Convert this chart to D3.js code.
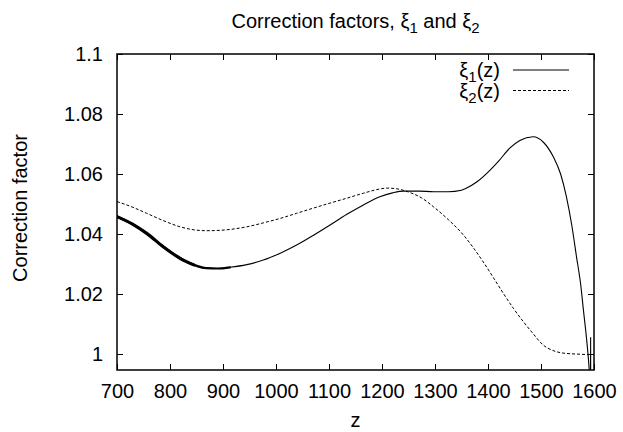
<!DOCTYPE html>
<html>
<head>
<meta charset="utf-8">
<script src="https://cdn.jsdelivr.net/npm/d3@7"></script>
<style>
  html, body { margin: 0; padding: 0; background: #fff; }
  svg { display: block; }
  text { font-family: "Liberation Sans", Arial, Helvetica, sans-serif; fill: #000; }
</style>
</head>
<body>
<svg id="chart" width="623" height="432"></svg>
<script>
// ---- data ----
const xTicks = [700, 800, 900, 1000, 1100, 1200, 1300, 1400, 1500, 1600];
const yTicks = [1, 1.02, 1.04, 1.06, 1.08, 1.1];
const yTickLabels = ["1", "1.02", "1.04", "1.06", "1.08", "1.1"];

const xi1Z = [700, 730, 756, 787, 819, 845, 869, 890, 913, 945, 976, 1008, 1039, 1070, 1102, 1133, 1165, 1196, 1220, 1240, 1270, 1297, 1325, 1350, 1357, 1380, 1404, 1420, 1441, 1460, 1485, 1505, 1523, 1537, 1548, 1558, 1567, 1575, 1580, 1586, 1591, 1592.5, 1593.4, 1593.6, 1593.8];
const xi1V = [1.0458, 1.0432, 1.0402, 1.0358, 1.0319, 1.0297, 1.0286, 1.0285, 1.0289, 1.0298, 1.0313, 1.0336, 1.0363, 1.0395, 1.0430, 1.0465, 1.0497, 1.0524, 1.0537, 1.0543, 1.0543, 1.0541, 1.0541, 1.0546, 1.0551, 1.0575, 1.0613, 1.0643, 1.0686, 1.0712, 1.0724, 1.0705, 1.0658, 1.0600, 1.0524, 1.0430, 1.0324, 1.0230, 1.0147, 1.0050, 0.9947, 0.9900, 0.9900, 1.0055, 0.9900];

const xi2Z = [700, 730, 756, 787, 819, 845, 869, 900, 945, 976, 1008, 1039, 1070, 1102, 1133, 1165, 1196, 1210, 1230, 1250, 1275, 1297, 1325, 1353, 1372, 1391, 1410, 1429, 1448, 1467, 1485, 1504, 1522, 1542, 1565, 1589];
const xi2V = [1.0508, 1.0489, 1.0469, 1.0445, 1.0424, 1.0414, 1.0411, 1.0413, 1.0424, 1.0437, 1.0452, 1.0469, 1.0486, 1.0503, 1.0519, 1.0536, 1.0550, 1.0553, 1.0550, 1.0540, 1.0520, 1.0491, 1.0448, 1.0398, 1.0355, 1.0307, 1.0255, 1.0202, 1.0152, 1.0107, 1.0068, 1.0030, 1.0012, 1.0003, 1.0000, 0.9998];

// xi1 is visibly noisy (a thick band) at low z
const noisyHeavyEndZ = 850;
const noisyLightEndZ = 915;

// ---- layout ----
const W = 623, H = 432;
const L = 117, R = 594, T = 54, B = 370;

const svg = d3.select("#chart");

const x = d3.scaleLinear().domain([700, 1600]).range([L, R]);
const y = d3.scaleLinear().domain([1 - 16 / 3000, 1.1]).range([B, T]);

// clip
svg.append("defs").append("clipPath").attr("id", "plotclip")
  .append("rect").attr("x", L).attr("y", T).attr("width", R - L).attr("height", B - T);

// axes
const fs = "20px";
const gx = svg.append("g").attr("transform", `translate(0,${B})`)
  .call(d3.axisBottom(x).tickValues(xTicks).tickFormat(d3.format("d")).tickSizeInner(-6).tickSizeOuter(0).tickPadding(14));
const gy = svg.append("g").attr("transform", `translate(${L},0)`)
  .call(d3.axisLeft(y).tickValues(yTicks).tickFormat((d, i) => yTickLabels[i]).tickSizeInner(-6).tickSizeOuter(0).tickPadding(14));
const gxt = svg.append("g").attr("transform", `translate(0,${T})`)
  .call(d3.axisTop(x).tickValues(xTicks).tickFormat("").tickSizeInner(-6).tickSizeOuter(0));
const gyr = svg.append("g").attr("transform", `translate(${R},0)`)
  .call(d3.axisRight(y).tickValues(yTicks).tickFormat("").tickSizeInner(-6).tickSizeOuter(0));

[gx, gy, gxt, gyr].forEach(g => {
  g.select(".domain").remove();
  g.selectAll(".tick line").attr("stroke", "#000").attr("stroke-width", 1);
  g.selectAll(".tick text").style("font-size", fs).attr("fill", "#000")
    .style("font-family", '"Liberation Sans", Arial, sans-serif');
});

// curves
const line = d3.line().x(d => x(d[0])).y(d => y(d[1])).curve(d3.curveMonotoneX);
const xi1 = xi1Z.map((z, i) => [z, xi1V[i]]);
const xi2 = xi2Z.map((z, i) => [z, xi2V[i]]);

const plot = svg.append("g").attr("clip-path", "url(#plotclip)");
plot.append("path").attr("d", line(xi2)).attr("fill", "none")
  .attr("stroke", "#000").attr("stroke-width", 1).attr("stroke-dasharray", "3,2");
plot.append("path").attr("d", line(xi1)).attr("fill", "none")
  .attr("stroke", "#000").attr("stroke-width", 1.1);
plot.append("path").attr("d", line(xi1.filter(d => d[0] <= noisyLightEndZ))).attr("fill", "none")
  .attr("stroke", "#000").attr("stroke-width", 2.2).attr("stroke-linecap", "round");
plot.append("path").attr("d", line(xi1.filter(d => d[0] <= noisyHeavyEndZ))).attr("fill", "none")
  .attr("stroke", "#000").attr("stroke-width", 3.2).attr("stroke-linecap", "round");

// frame
svg.append("rect").attr("x", L).attr("y", T).attr("width", R - L).attr("height", B - T)
  .attr("fill", "none").attr("stroke", "#000").attr("stroke-width", 1.5);

// title
const title = svg.append("text").attr("x", (L + R) / 2).attr("y", 28)
  .attr("text-anchor", "middle").style("font-size", fs);
title.append("tspan").text("Correction factors, ξ");
title.append("tspan").text("1").style("font-size", "15px").attr("dy", 5);
title.append("tspan").text(" and ξ").attr("dy", -5);
title.append("tspan").text("2").style("font-size", "15px").attr("dy", 5);

// axis labels
svg.append("text").attr("x", (L + R) / 2).attr("y", 427)
  .attr("text-anchor", "middle").style("font-size", fs).text("z");
svg.append("text").attr("transform", `translate(27,208) rotate(-90)`)
  .attr("text-anchor", "middle").style("font-size", fs).text("Correction factor");

// legend
const legend = [
  { name: "1", dash: null, ly: 70 },
  { name: "2", dash: "3,2", ly: 90.5 }
];
legend.forEach(d => {
  const t = svg.append("text").attr("x", 500).attr("y", d.ly + 7)
    .attr("text-anchor", "end").style("font-size", fs);
  t.append("tspan").text("ξ");
  t.append("tspan").text(d.name).style("font-size", "15px").attr("dy", 5);
  t.append("tspan").text("(z)").attr("dy", -5);
  svg.append("line").attr("x1", 513).attr("x2", 569).attr("y1", d.ly).attr("y2", d.ly)
    .attr("stroke", "#000").attr("stroke-width", 1)
    .attr("stroke-dasharray", d.dash);
});
</script>
</body>
</html>
